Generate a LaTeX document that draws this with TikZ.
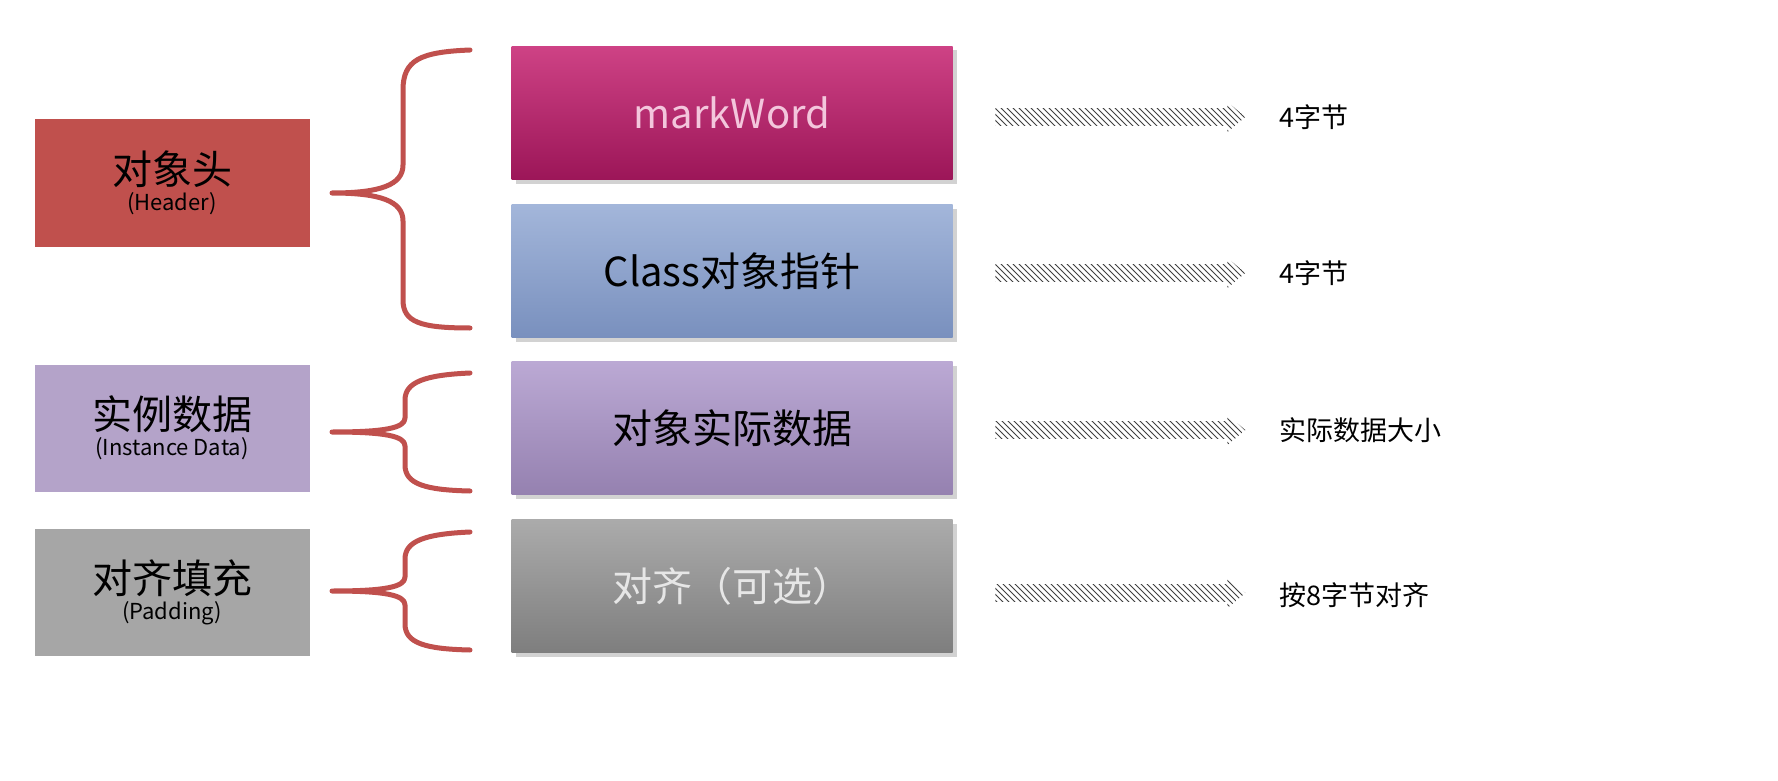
\documentclass[tikz,border=0pt]{standalone}
\usepackage{fontspec}
\setmainfont{Noto Sans CJK SC}
\usetikzlibrary{shapes.arrows,patterns,shadows}
\definecolor{hred}{HTML}{C0504D}
\definecolor{lpur}{HTML}{B4A3C9}
\definecolor{lgray}{HTML}{A6A6A6}
\definecolor{mwt}{HTML}{CE4285}\definecolor{mwb}{HTML}{9C1658}\definecolor{mwx}{HTML}{F3C6DC}
\definecolor{cpt}{HTML}{A3B6DA}\definecolor{cpb}{HTML}{7990BE}
\definecolor{odt}{HTML}{BBA9D4}\definecolor{odb}{HTML}{9581B0}
\definecolor{alt}{HTML}{ABABAB}\definecolor{alb}{HTML}{7E7E7E}\definecolor{alx}{HTML}{E6E6E6}
\tikzset{
  lbox/.style={draw=none,minimum width=137.5pt,minimum height=63.5pt,inner sep=0pt,align=center,text=black},
  rbox/.style={draw=none,minimum width=220.5pt,minimum height=66.5pt,inner sep=0pt,
    drop shadow={shadow xshift=2pt,shadow yshift=-2pt,fill=black!35,opacity=0.5},
    font=\fontsize{20}{22}\selectfont},
  brace/.style={draw=hred,line width=2.5pt,line cap=round,line join=round},
  hatch/.style={single arrow,draw=none,pattern=north west lines,pattern color=black!75,
    minimum width=15pt,minimum height=125pt,single arrow head extend=1.5pt,single arrow tip angle=80,inner sep=2pt},
  note/.style={anchor=west,font=\fontsize{13.5}{15}\selectfont},
}
\begin{document}
\begin{tikzpicture}[x=0.5pt,y=-0.5pt]
\useasboundingbox (0,0) rectangle (1778,781);
\fill[white] (0,0) rectangle (1778,781);
% left boxes
\node[lbox,fill=hred] (hdr) at (172,183) {{\fontsize{20}{24}\selectfont 对象头}\\[1pt]{\fontsize{11}{13}\selectfont (Header)}};
\node[lbox,fill=lpur] (ins) at (172,428) {{\fontsize{20}{24}\selectfont 实例数据}\\[1pt]{\fontsize{11}{13}\selectfont (Instance Data)}};
\node[lbox,fill=lgray] (pad) at (172,592) {{\fontsize{20}{24}\selectfont 对齐填充}\\[1pt]{\fontsize{11}{13}\selectfont (Padding)}};
% right boxes
\node[rbox,top color=mwt,bottom color=mwb,text=mwx] (mw) at (732,113) {markWord};
\node[rbox,top color=cpt,bottom color=cpb] (cp) at (732,271) {Class对象指针};
\node[rbox,top color=odt,bottom color=odb] (od) at (732,428) {对象实际数据};
\node[rbox,top color=alt,bottom color=alb,text=alx] (al) at (732,586) {对齐（可选）};
% braces
\draw[brace] (470,50) .. controls (420,52) and (403,60) .. (403,90) -- (403,165) .. controls (403,185) and (380,193) .. (332,193)
  .. controls (380,193) and (403,201) .. (403,221) -- (403,300) .. controls (403,322) and (420,328) .. (470,328);
\draw[brace] (470,373) .. controls (425,375) and (405,382) .. (405,400) -- (405,418) .. controls (405,428) and (385,432) .. (332,432)
  .. controls (385,432) and (405,436) .. (405,446) -- (405,465) .. controls (405,484) and (425,490) .. (470,491);
\draw[brace] (470,532) .. controls (425,534) and (405,541) .. (405,559) -- (405,577) .. controls (405,587) and (385,591) .. (332,591)
  .. controls (385,591) and (405,595) .. (405,605) -- (405,624) .. controls (405,643) and (425,649) .. (470,650);
% arrows
\node[hatch] (a1) at (1115,117) {};
\node[hatch] (a2) at (1115,273) {};
\node[hatch] (a3) at (1115,430) {};
\node[hatch] (a4) at (1115,593) {};
% notes
\node[note] (n1) at (1272,117) {4字节};
\node[note] (n2) at (1272,273) {4字节};
\node[note] (n3) at (1272,430) {实际数据大小};
\node[note] (n4) at (1272,595) {按8字节对齐};
\end{tikzpicture}
\end{document}
